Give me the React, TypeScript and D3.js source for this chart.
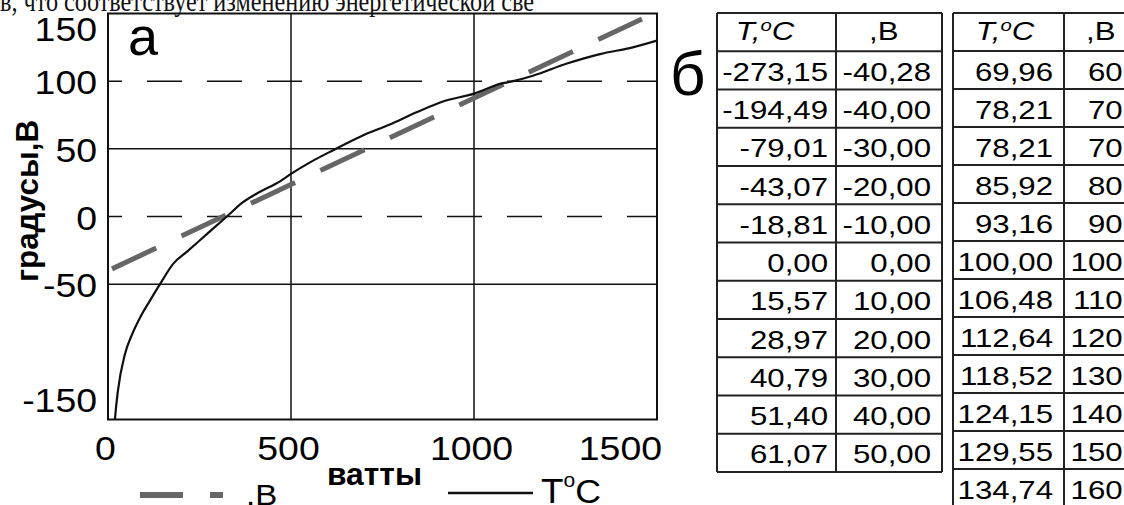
import React from "react";
import * as d3 from "d3";

// ---- data ----
const tWatts = [17, 19, 27, 46, 66, 87, 115, 142, 178, 216, 270, 333, 361, 407, 470, 503, 552, 615, 689, 770, 843, 915, 1003, 1071, 1107, 1161, 1254, 1344, 1434, 1500];
const tValues = [-158, -150, -129, -102, -87, -75, -62, -50, -35, -26, -13, 2, 9, 17, 26, 32, 40, 49, 59, 68, 77, 85, 91, 98, 100, 104, 113, 120, 125, 130];
const bWatts = [11, 1459];
const bValues = [-38.7, 146];

const xTicks = [0, 500, 1000, 1500];
const yTicks = [150, 100, 50, 0, -50, -150];
const yGridSolid = [50, -50];
const yGridDashed = [100, 0];
const xGrid = [500, 1000];

const leftT = ["-273,15", "-194,49", "-79,01", "-43,07", "-18,81", "0,00", "15,57", "28,97", "40,79", "51,40", "61,07"];
const leftB = ["-40,28", "-40,00", "-30,00", "-20,00", "-10,00", "0,00", "10,00", "20,00", "30,00", "40,00", "50,00"];
const rightT = ["69,96", "78,21", "78,21", "85,92", "93,16", "100,00", "106,48", "112,64", "118,52", "124,15", "129,55", "134,74"];
const rightB = ["60,00", "70,00", "70,00", "80,00", "90,00", "100,00", "110,00", "120,00", "130,00", "140,00", "150,00", "160,00"];

const topText = "в, что соответствует изменению энергетической све";

const W = 1124, H = 505;
const P = { left: 108, right: 657, top: 13.5, bottom: 419.5 };
const SANS = "'Liberation Sans', Arial, sans-serif";

function SText(props: any) {
  const { x, y, sx = 1, anchor = "start", children, ...rest } = props;
  return (
    <text transform={`translate(${x},${y}) scale(${sx},1)`} textAnchor={anchor} fontFamily={SANS} {...rest}>
      {children}
    </text>
  );
}

function Table(props: any) {
  const { x0, x1, x2, top, rowH, tVals, bVals, pad1, bRight, hdrTX, hdrBX } = props;
  const n = tVals.length + 1;
  const rows = d3.range(n + 1).map((i) => top + i * rowH);
  const bottom = rows[rows.length - 1];
  const fs = 26, sx = 1.2;
  return (
    <g>
      {rows.map((ry, i) => (
        <line key={"r" + i} x1={x0} x2={x2} y1={ry} y2={ry} stroke="#222" strokeWidth={2} />
      ))}
      {[x0, x1, x2].map((cx, i) => (
        <line key={"c" + i} x1={cx} x2={cx} y1={top} y2={bottom} stroke="#222" strokeWidth={2} />
      ))}
      <SText x={hdrTX} y={top + 27} sx={sx} anchor="middle" fontSize={fs} fontStyle="italic">
        <tspan>T,</tspan>
        <tspan fontSize={17} dy={-9}>o</tspan>
        <tspan dy={9}>C</tspan>
      </SText>
      <SText x={hdrBX} y={top + 27} sx={sx} fontSize={fs}>,В</SText>
      {tVals.map((v: string, i: number) => (
        <SText key={"t" + i} x={x1 - pad1} y={rows[i + 1] + 29.5} sx={sx} anchor="end" fontSize={fs}>{v}</SText>
      ))}
      {bVals.map((v: string, i: number) => (
        <SText key={"b" + i} x={bRight} y={rows[i + 1] + 29.5} sx={sx} anchor="end" fontSize={fs}>{v}</SText>
      ))}
    </g>
  );
}

export default function App() {
  const x = d3.scaleLinear().domain([0, 1500]).range([P.left, P.right]);
  const y = d3.scaleLinear().domain([-150, 150]).range([P.bottom, P.top]);

  const tLine = d3
    .line<number>()
    .x((_, i) => x(tWatts[i]))
    .y((d) => y(d))
    .curve(d3.curveMonotoneX)(tValues) as string;
  const bLine = d3
    .line<number>()
    .x((_, i) => x(bWatts[i]))
    .y((d) => y(d))(bValues) as string;

  const tickFs = 34, tickSx = 1.1, capH = 0.716 * tickFs;

  return (
    <svg width={W} height={H} style={{ position: "absolute", left: 0, top: 0, background: "#fff" }}>
      <defs>
        <clipPath id="plotclip">
          <rect x={P.left} y={P.top} width={P.right - P.left} height={P.bottom - P.top} />
        </clipPath>
      </defs>
      <rect x={0} y={0} width={W} height={H} fill="#fff" />

      {/* cut-off line of the page text above */}
      <text x={0} y={11} fontFamily="'Liberation Serif', 'Times New Roman', serif" fontSize={30} textLength={534} lengthAdjust="spacingAndGlyphs" fill="#111">
        {topText}
      </text>

      {/* grid */}
      {yGridSolid.map((v) => (
        <line key={"gs" + v} x1={P.left} x2={P.right} y1={y(v)} y2={y(v)} stroke="#111" strokeWidth={1.5} />
      ))}
      {yGridDashed.map((v) => (
        <line key={"gd" + v} x1={P.left} x2={P.right} y1={y(v)} y2={y(v)} stroke="#111" strokeWidth={1.5} strokeDasharray="35 25" strokeDashoffset={21} />
      ))}
      {xGrid.map((v) => (
        <line key={"gx" + v} x1={x(v)} x2={x(v)} y1={P.top} y2={P.bottom} stroke="#111" strokeWidth={1.5} />
      ))}

      {/* series */}
      <g clipPath="url(#plotclip)">
        <path d={bLine} fill="none" stroke="#666" strokeWidth={5} strokeDasharray="48.8 28" />
        <path d={tLine} fill="none" stroke="#111" strokeWidth={2.2} />
      </g>

      {/* frame */}
      <rect x={P.left} y={P.top} width={P.right - P.left} height={P.bottom - P.top} fill="none" stroke="#111" strokeWidth={2} />

      {/* panel label */}
      <text x={128} y={55} fontFamily={SANS} fontSize={54}>а</text>

      {/* y ticks */}
      {yTicks.map((v) => {
        const base = Math.max(P.top + capH + 3.5, Math.min(P.bottom - 8, y(v) + capH / 2 + 1));
        return (
          <SText key={"yt" + v} x={97} y={base} sx={tickSx} anchor="end" fontSize={tickFs}>{String(v)}</SText>
        );
      })}

      {/* x ticks */}
      {xTicks.map((v, i) => {
        const last = i === xTicks.length - 1;
        return (
          <SText key={"xt" + v} x={last ? P.right + 5 : x(v) - 2.5} y={460} sx={tickSx} anchor={last ? "end" : "middle"} fontSize={tickFs}>
            {String(v)}
          </SText>
        );
      })}

      {/* axis titles */}
      <text transform="translate(38,201) rotate(-90)" textAnchor="middle" fontFamily={SANS} fontWeight="bold" fontSize={31} textLength={162} lengthAdjust="spacingAndGlyphs">
        градусы,В
      </text>
      <text x={327} y={485} fontFamily={SANS} fontWeight="bold" fontSize={32} textLength={95} lengthAdjust="spacingAndGlyphs">
        ватты
      </text>

      {/* legend */}
      <line x1={140} x2={223} y1={495} y2={495} stroke="#666" strokeWidth={6} strokeDasharray="43 27" />
      <SText x={246} y={505} sx={1.1} fontSize={30}>.В</SText>
      <line x1={448} x2={533} y1={493} y2={493} stroke="#111" strokeWidth={2.5} />
      <SText x={541} y={503} sx={1.05} fontSize={35}>
        <tspan>T</tspan>
        <tspan fontSize={20} dy={-16}>o</tspan>
        <tspan dy={16} fontSize={34}>C</tspan>
      </SText>

      {/* б label */}
      <text x={670} y={95} fontFamily={SANS} fontSize={62}>б</text>

      {/* tables */}
      <Table x0={717} x1={836} x2={942} top={13} rowH={38.25} tVals={leftT} bVals={leftB} pad1={8} bRight={931} hdrTX={765} hdrBX={869} />
      <Table x0={953} x1={1064} x2={1176} top={13} rowH={38.0} tVals={rightT} bVals={rightB} pad1={11} bRight={1166} hdrTX={1005} hdrBX={1086} />
    </svg>
  );
}
